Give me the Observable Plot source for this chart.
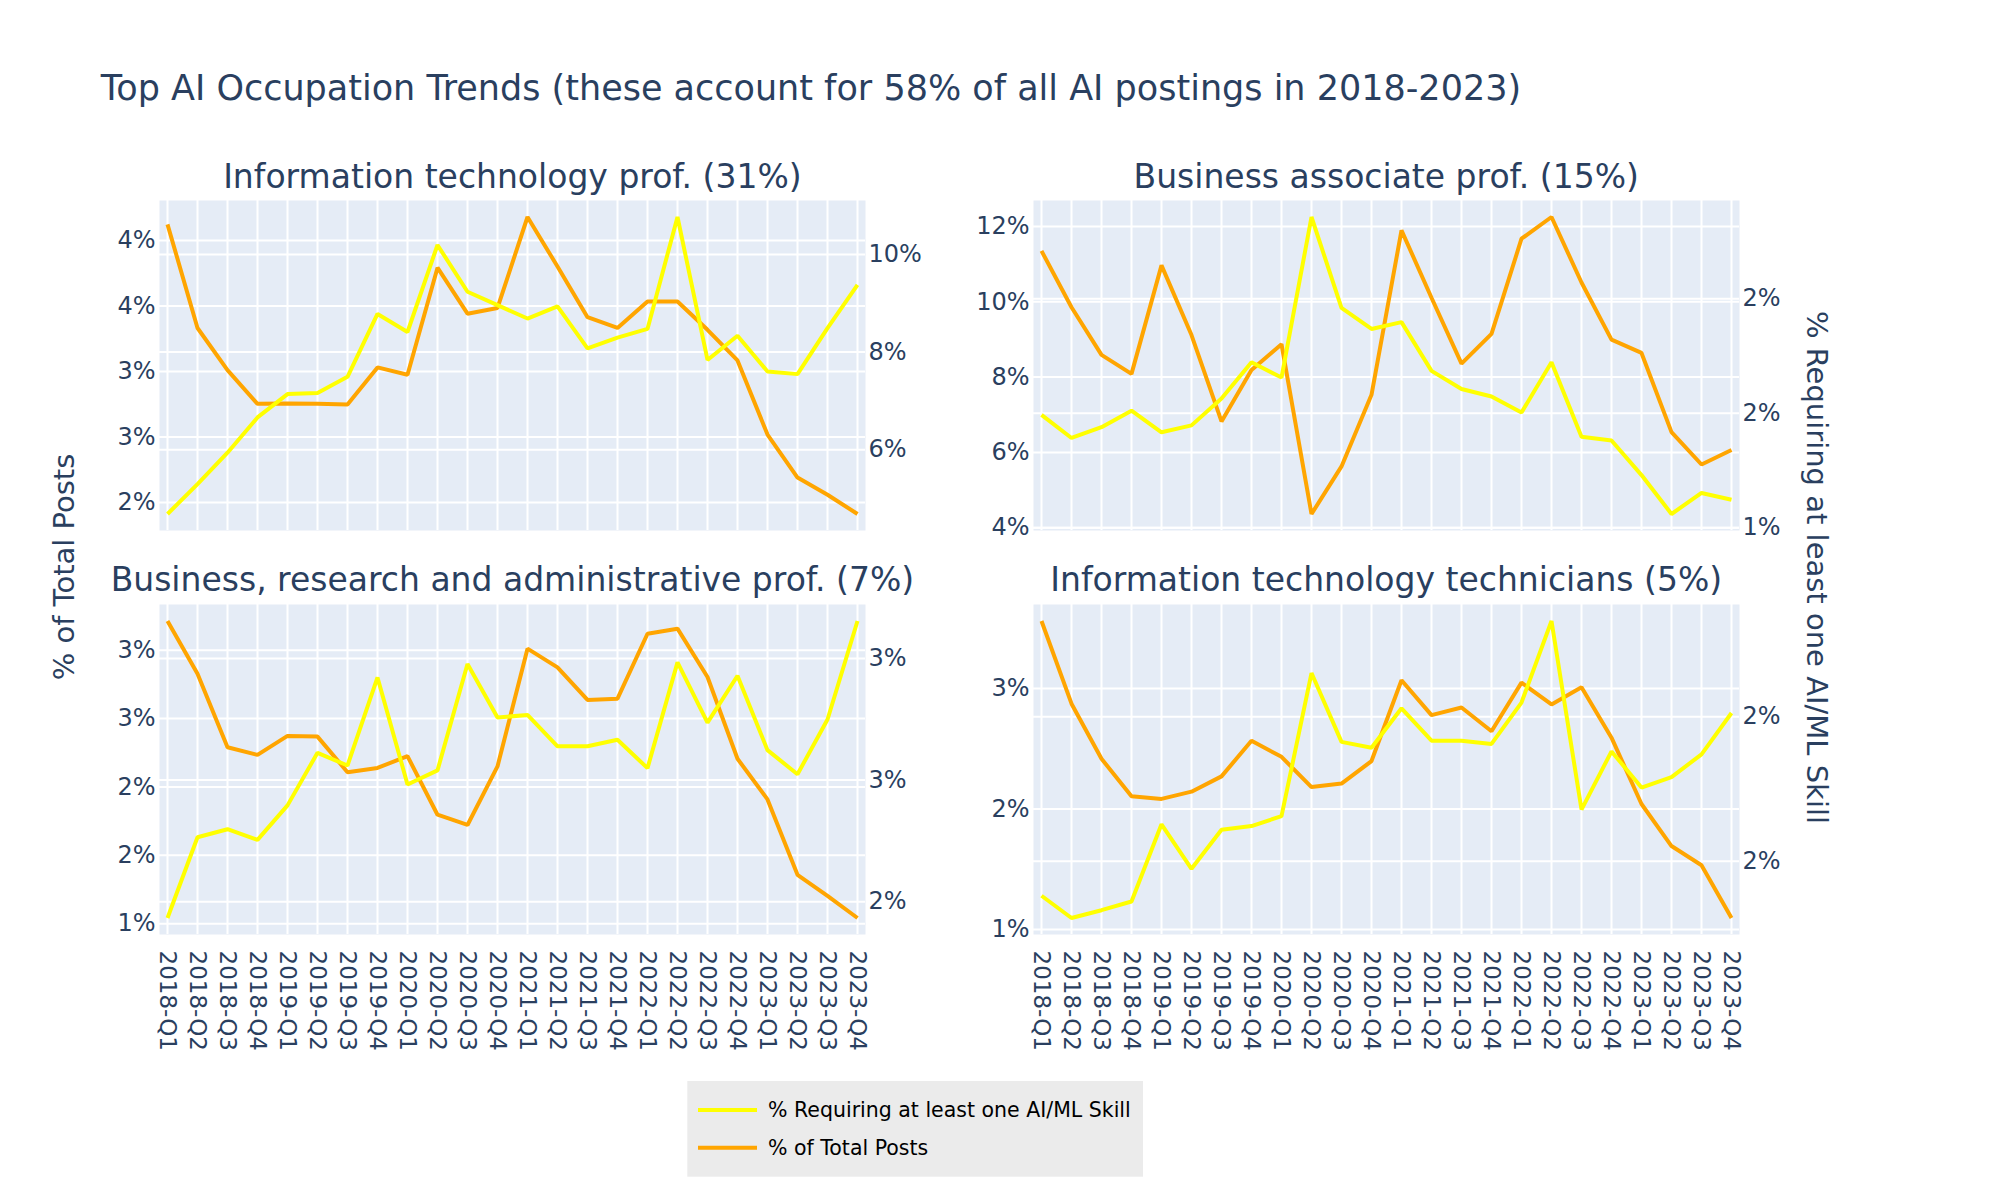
<!DOCTYPE html>
<html><head><meta charset="utf-8">
<script src="https://cdn.jsdelivr.net/npm/d3@7"></script>
<script src="https://cdn.jsdelivr.net/npm/@observablehq/plot@0.6"></script>
<style>
body{margin:0;background:#fff;}
#root{position:relative;width:2000px;height:1200px;overflow:hidden;background:#fff;font-family:"DejaVu Sans",Verdana,sans-serif;color:#2a3f5f;}
</style></head><body><div id="root"></div>
<script>
// ---------- data ----------
const quarters = ["2018-Q1","2018-Q2","2018-Q3","2018-Q4","2019-Q1","2019-Q2","2019-Q3","2019-Q4",
  "2020-Q1","2020-Q2","2020-Q3","2020-Q4","2021-Q1","2021-Q2","2021-Q3","2021-Q4",
  "2022-Q1","2022-Q2","2022-Q3","2022-Q4","2023-Q1","2023-Q2","2023-Q3","2023-Q4"];

const mainTitle = "Top AI Occupation Trends (these account for 58% of all AI postings in 2018-2023)";
const panelTitles = ["Information technology prof. (31%)", "Business associate prof. (15%)",
  "Business, research and administrative prof. (7%)", "Information technology technicians (5%)"];
const seriesNames = ["% Requiring at least one AI/ML Skill", "% of Total Posts"];
const leftAxisTitle = "% of Total Posts";
const rightAxisTitle = "% Requiring at least one AI/ML Skill";

// Information technology prof.
const itProfTotal = [4.123,3.332,3.010,2.753,2.756,2.753,2.747,3.031,2.975,3.792,3.441,3.485,4.179,3.801,3.414,3.332,3.534,3.534,3.318,3.084,2.518,2.190,2.059,1.912];
const itProfAI    = [4.680,5.292,5.937,6.660,7.139,7.163,7.493,8.782,8.412,10.196,9.238,8.963,8.688,8.939,8.075,8.295,8.475,10.770,7.839,8.334,7.603,7.548,8.491,9.379];
const itProfLeftTicks = [2,2.5,3,3.5,4];
const itProfLeftLabels = ["2%","3%","3%","4%","4%"];
const itProfRightTicks = [6,8,10];
const itProfRightLabels = ["6%","8%","10%"];

// Business associate prof.
const bizAssocTotal = [11.353,9.856,8.592,8.086,10.968,9.117,6.822,8.187,8.875,4.364,5.628,7.530,11.899,10.109,8.359,9.148,11.676,12.253,10.513,8.996,8.642,6.538,5.679,6.063];
const bizAssocAI    = [1.493,1.392,1.439,1.511,1.417,1.447,1.564,1.723,1.656,2.357,1.960,1.868,1.898,1.685,1.606,1.573,1.503,1.723,1.397,1.381,1.230,1.060,1.152,1.122];
const bizAssocLeftTicks = [4,6,8,10,12];
const bizAssocLeftLabels = ["4%","6%","8%","10%","12%"];
const bizAssocRightTicks = [1,1.5,2];
const bizAssocRightLabels = ["1%","2%","2%"];

// Business, research and administrative prof.
const bizResTotal = [3.213,2.827,2.290,2.234,2.373,2.368,2.108,2.139,2.225,1.797,1.722,2.150,3.011,2.874,2.636,2.645,3.120,3.157,2.804,2.206,1.909,1.358,1.204,1.042];
const bizResAI    = [1.933,2.265,2.298,2.254,2.396,2.612,2.560,2.922,2.482,2.540,2.977,2.757,2.768,2.639,2.639,2.666,2.549,2.984,2.736,2.929,2.623,2.524,2.749,3.154];
const bizResLeftTicks = [1,1.5,2,2.5,3];
const bizResLeftLabels = ["1%","2%","2%","3%","3%"];
const bizResRightTicks = [2,2.5,3];
const bizResRightLabels = ["2%","3%","3%"];

// Information technology technicians
const itTechTotal = [3.559,2.873,2.416,2.105,2.083,2.143,2.270,2.565,2.432,2.181,2.210,2.397,3.067,2.778,2.841,2.644,3.048,2.867,3.010,2.591,2.041,1.692,1.533,1.095];
const itTechAI    = [1.381,1.304,1.331,1.361,1.628,1.474,1.609,1.622,1.656,2.151,1.913,1.893,2.029,1.917,1.917,1.906,2.049,2.331,1.679,1.880,1.755,1.791,1.870,2.013];
const itTechLeftTicks = [1,2,3];
const itTechLeftLabels = ["1%","2%","3%"];
const itTechRightTicks = [1.5,2];
const itTechRightLabels = ["2%","2%"];

// ---------- layout / style ----------
const textColor = "#2a3f5f";
const aiColor = "yellow";
const totalColor = "orange";
const PW = 706, PH = 330, ML = 100, MR = 100, MT = 20, MB = 150, INSET = 16.5;
const W = PW + ML + MR, H = PH + MT + MB;
const colX = [159.4, 1033.2], rowY = [200, 604];
const FONT = "DejaVu Sans, Verdana, sans-serif";

const panels = [
  {title: panelTitles[0], total: itProfTotal, ai: itProfAI, lt: itProfLeftTicks, ll: itProfLeftLabels, rt: itProfRightTicks, rl: itProfRightLabels, col: 0, row: 0},
  {title: panelTitles[1], total: bizAssocTotal, ai: bizAssocAI, lt: bizAssocLeftTicks, ll: bizAssocLeftLabels, rt: bizAssocRightTicks, rl: bizAssocRightLabels, col: 1, row: 0},
  {title: panelTitles[2], total: bizResTotal, ai: bizResAI, lt: bizResLeftTicks, ll: bizResLeftLabels, rt: bizResRightTicks, rl: bizResRightLabels, col: 0, row: 1},
  {title: panelTitles[3], total: itTechTotal, ai: itTechAI, lt: itTechLeftTicks, ll: itTechLeftLabels, rt: itTechRightTicks, rl: itTechRightLabels, col: 1, row: 1}
];

const root = document.getElementById("root");
function place(el, left, top, z) {
  el.style.position = "absolute";
  el.style.left = left + "px";
  el.style.top = top + "px";
  el.style.zIndex = z;
  root.appendChild(el);
}
function layer(domain, marks, xAxis) {
  return Plot.plot({
    width: W, height: H,
    marginLeft: ML, marginRight: MR, marginTop: MT, marginBottom: MB,
    x: Object.assign({type: "point", domain: quarters, padding: 0, label: null}, xAxis ? {} : {axis: null}),
    y: {type: "linear", domain, insetTop: INSET, insetBottom: INSET, axis: null, label: null},
    style: {background: "transparent", overflow: "visible", fontFamily: FONT, color: textColor, maxWidth: "none"},
    marks
  });
}

panels.forEach((p, k) => {
  const rows = quarters.map((q, i) => ({q, total: p.total[i], ai: p.ai[i]}));
  const leftDomain = d3.extent(p.total);
  const rightDomain = d3.extent(p.ai);
  const leftMap = new Map(p.lt.map((v, i) => [v, p.ll[i]]));
  const rightMap = new Map(p.rt.map((v, i) => [v, p.rl[i]]));
  const left = colX[p.col] - ML, top = rowY[p.row] - MT;

  // layer 1: background + right-axis grid
  const l1 = layer(rightDomain, [
    Plot.frame({fill: "#e5ecf6", stroke: null}),
    Plot.ruleY(p.rt, {stroke: "white", strokeWidth: 2})
  ], false);
  place(l1, left, top, 1 + k * 3);

  // layer 2: left grid, category grid, orange line, left axis, x axis
  const marks2 = [
    Plot.ruleX(quarters, {stroke: "white", strokeWidth: 2}),
    Plot.ruleY(p.lt, {stroke: "white", strokeWidth: 2}),
    Plot.line(rows, {x: "q", y: "total", stroke: totalColor, strokeWidth: 4, strokeLinejoin: "miter", strokeLinecap: "butt"}),
    Plot.axisY(p.lt, {anchor: "left", label: null, tickSize: 0, tickPadding: 4, tickFormat: d => leftMap.get(d), fontSize: 24, fill: textColor})
  ];
  if (p.row === 1) {
    marks2.push(Plot.axisX({anchor: "bottom", label: null, tickSize: 0, tickPadding: 16, tickRotate: 90, fontSize: 23, fill: textColor}));
  }
  const l2 = layer(leftDomain, marks2, p.row === 1);
  place(l2, left, top, 2 + k * 3);

  // layer 3: yellow line + right axis
  const l3 = layer(rightDomain, [
    Plot.line(rows, {x: "q", y: "ai", stroke: aiColor, strokeWidth: 4, strokeLinejoin: "miter", strokeLinecap: "butt"}),
    Plot.axisY(p.rt, {anchor: "right", label: null, tickSize: 0, tickPadding: 3, tickFormat: d => rightMap.get(d), fontSize: 24, fill: textColor})
  ], false);
  place(l3, left, top, 3 + k * 3);
});

// ---------- text overlay ----------
const ov = d3.select(root).append("svg")
  .attr("width", 2000).attr("height", 1200)
  .style("position", "absolute").style("left", "0px").style("top", "0px")
  .style("z-index", 50).style("pointer-events", "none")
  .style("font-family", FONT);

ov.append("text").attr("x", 100.8).attr("y", 100.3).attr("font-size", 35).attr("fill", textColor).text(mainTitle);

panels.forEach(p => {
  const cx = colX[p.col] + PW / 2;
  const by = p.row === 0 ? 187.5 : 591;
  ov.append("text").attr("x", cx).attr("y", by).attr("text-anchor", "middle")
    .attr("font-size", 33).attr("fill", textColor).text(p.title);
});

ov.append("text").attr("transform", "translate(64,567) rotate(-90)")
  .attr("text-anchor", "middle").attr("dominant-baseline", "central")
  .attr("font-size", 29).attr("fill", textColor).text(leftAxisTitle);
ov.append("text").attr("transform", "translate(1817,567.5) rotate(90)")
  .attr("text-anchor", "middle").attr("dominant-baseline", "central")
  .attr("font-size", 29).attr("fill", textColor).text(rightAxisTitle);

// legend
const lg = ov.append("g");
lg.append("rect").attr("x", 687.3).attr("y", 1081).attr("width", 455.7).attr("height", 95.7).attr("fill", "#ebebeb");
[aiColor, totalColor].forEach((c, i) => {
  const y = 1110 + i * 37.7;
  lg.append("line").attr("x1", 698).attr("x2", 757).attr("y1", y).attr("y2", y).attr("stroke", c).attr("stroke-width", 4);
  lg.append("text").attr("x", 768).attr("y", y).attr("dominant-baseline", "central")
    .attr("font-size", 20.5).attr("fill", "#000").text(seriesNames[i]);
});
</script>
</body></html>
